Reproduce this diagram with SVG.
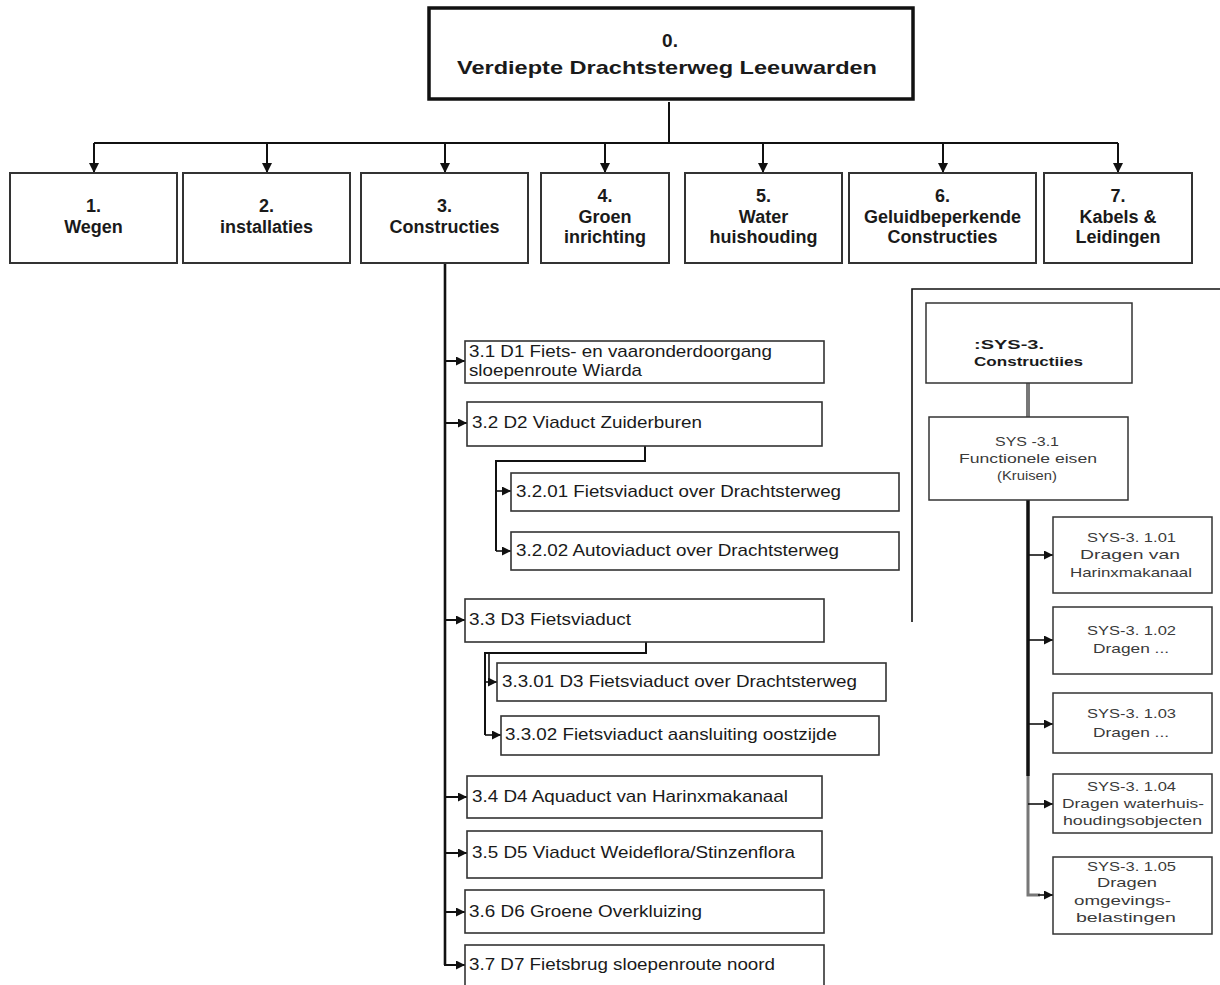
<svg xmlns="http://www.w3.org/2000/svg" width="1220" height="985" viewBox="0 0 1220 985">
  <defs>
    <marker id="arr" viewBox="0 0 10 10" refX="10" refY="5" markerWidth="10" markerHeight="10" orient="auto" markerUnits="userSpaceOnUse">
      <path d="M0,0 L10,5 L0,10 z" fill="#111"/>
    </marker>
    <marker id="arrS" viewBox="0 0 10 10" refX="10" refY="5" markerWidth="9" markerHeight="9" orient="auto" markerUnits="userSpaceOnUse">
      <path d="M0,0 L10,5 L0,10 z" fill="#111"/>
    </marker>
    <style>
      .top { fill: #fff; stroke: #111; stroke-width: 3.5; }
      .lvl1 { fill: #fff; stroke: #333; stroke-width: 2; }
      .sub { fill: #fff; stroke: #333; stroke-width: 1.6; }
      .sys { fill: #fff; stroke: #333; stroke-width: 1.5; }
      text { font-family: "Liberation Sans", Arial, sans-serif; fill: #1a1a1a; }
      .b18 { font-size: 18px; font-weight: bold; text-anchor: middle; }
      .b19 { font-size: 19px; font-weight: bold; text-anchor: middle; }
      .r17 { font-size: 17px; }
      .s13 { font-size: 13.5px; fill: #3a3a3a; }
      .s13b { font-size: 13.5px; font-weight: bold; }
      .ln { fill: none; stroke: #111; stroke-width: 2; }
      .lnT { fill: none; stroke: #111; stroke-width: 2.6; }
      .lnS { fill: none; stroke: #111; stroke-width: 1.6; }
      .gray { fill: none; stroke: #777; }
    </style>
  </defs>

  <!-- connectors -->
  <g id="connectors">
    <!-- root to level 1 -->
    <path class="ln" d="M669,102 V143 M94,143 H1118"/>
    <path class="ln" marker-end="url(#arr)" d="M94,143 V173"/>
    <path class="ln" marker-end="url(#arr)" d="M267,143 V173"/>
    <path class="ln" marker-end="url(#arr)" d="M445,143 V173"/>
    <path class="ln" marker-end="url(#arr)" d="M605,143 V173"/>
    <path class="ln" marker-end="url(#arr)" d="M763,143 V173"/>
    <path class="ln" marker-end="url(#arr)" d="M943,143 V173"/>
    <path class="ln" marker-end="url(#arr)" d="M1118,143 V173"/>

    <!-- 3. Constructies spine -->
    <path class="lnT" d="M445,263 V965"/>
    <path class="ln" marker-end="url(#arrS)" d="M445,361 H465"/>
    <path class="ln" marker-end="url(#arrS)" d="M445,423 H467"/>
    <path class="ln" marker-end="url(#arrS)" d="M445,620 H465"/>
    <path class="ln" marker-end="url(#arrS)" d="M445,797 H467"/>
    <path class="ln" marker-end="url(#arrS)" d="M445,853 H467"/>
    <path class="ln" marker-end="url(#arrS)" d="M445,912 H465"/>
    <path class="ln" marker-end="url(#arrS)" d="M444,965 H465"/>

    <!-- 3.2 children -->
    <path class="ln" d="M645,446 V461 H496 V551"/>
    <path class="lnS" marker-end="url(#arrS)" d="M496,491 H511"/>
    <path class="lnS" marker-end="url(#arrS)" d="M496,551 H511"/>

    <!-- 3.3 children -->
    <path class="ln" d="M646,642 V653 H485 V735"/>
    <path class="lnS" d="M489,653 V682"/>
    <path class="lnS" marker-end="url(#arrS)" d="M485,682 H497"/>
    <path class="lnS" marker-end="url(#arrS)" d="M485,735 H501"/>

    <!-- SYS panel frame -->
    <path class="lnS" d="M912,622 V289 H1220"/>

    <!-- SYS tree -->
    <path class="gray" stroke-width="4" d="M1028,383 V417"/>
    <path fill="none" stroke="#111" stroke-width="3.5" d="M1028,500 V776"/>
    <path class="gray" stroke-width="3" d="M1028,776 V895 H1040"/>
    <path class="lnS" marker-end="url(#arrS)" d="M1028,555 H1053"/>
    <path class="lnS" marker-end="url(#arrS)" d="M1028,640 H1053"/>
    <path class="lnS" marker-end="url(#arrS)" d="M1028,724 H1053"/>
    <path class="lnS" marker-end="url(#arrS)" d="M1028,804 H1053"/>
    <path class="lnS" marker-end="url(#arrS)" d="M1038,895 H1053"/>
  </g>

  <!-- root -->
  <g id="n0">
    <rect class="top" x="429" y="8" width="484" height="91"/>
    <text class="b19" x="670" y="47">0.</text>
    <text class="b19" x="667" y="74" textLength="420" lengthAdjust="spacingAndGlyphs">Verdiepte Drachtsterweg Leeuwarden</text>
  </g>

  <!-- level 1 -->
  <g id="n1">
    <rect class="lvl1" x="10" y="173" width="167" height="90"/>
    <text class="b18" x="93.5" y="212">1.</text>
    <text class="b18" x="93.5" y="233">Wegen</text>
  </g>
  <g id="n2">
    <rect class="lvl1" x="183" y="173" width="167" height="90"/>
    <text class="b18" x="266.5" y="212">2.</text>
    <text class="b18" x="266.5" y="233">installaties</text>
  </g>
  <g id="n3">
    <rect class="lvl1" x="361" y="173" width="167" height="90"/>
    <text class="b18" x="444.5" y="212">3.</text>
    <text class="b18" x="444.5" y="233">Constructies</text>
  </g>
  <g id="n4">
    <rect class="lvl1" x="541" y="173" width="128" height="90"/>
    <text class="b18" x="605" y="202">4.</text>
    <text class="b18" x="605" y="223">Groen</text>
    <text class="b18" x="605" y="243">inrichting</text>
  </g>
  <g id="n5">
    <rect class="lvl1" x="685" y="173" width="157" height="90"/>
    <text class="b18" x="763.5" y="202">5.</text>
    <text class="b18" x="763.5" y="223">Water</text>
    <text class="b18" x="763.5" y="243">huishouding</text>
  </g>
  <g id="n6">
    <rect class="lvl1" x="849" y="173" width="187" height="90"/>
    <text class="b18" x="942.5" y="202">6.</text>
    <text class="b18" x="942.5" y="223">Geluidbeperkende</text>
    <text class="b18" x="942.5" y="243">Constructies</text>
  </g>
  <g id="n7">
    <rect class="lvl1" x="1044" y="173" width="148" height="90"/>
    <text class="b18" x="1118" y="202">7.</text>
    <text class="b18" x="1118" y="223">Kabels &amp;</text>
    <text class="b18" x="1118" y="243">Leidingen</text>
  </g>

  <!-- 3.x items -->
  <g id="n3-1">
    <rect class="sub" x="465" y="341" width="359" height="42"/>
    <text class="r17" x="469" y="357" textLength="303" lengthAdjust="spacingAndGlyphs">3.1 D1 Fiets- en vaaronderdoorgang</text>
    <text class="r17" x="469" y="376" textLength="173" lengthAdjust="spacingAndGlyphs">sloepenroute Wiarda</text>
  </g>
  <g id="n3-2">
    <rect class="sub" x="467" y="402" width="355" height="44"/>
    <text class="r17" x="472" y="428" textLength="230" lengthAdjust="spacingAndGlyphs">3.2 D2 Viaduct Zuiderburen</text>
  </g>
  <g id="n3-2-01">
    <rect class="sub" x="511" y="473" width="388" height="38"/>
    <text class="r17" x="516" y="497" textLength="325" lengthAdjust="spacingAndGlyphs">3.2.01 Fietsviaduct over Drachtsterweg</text>
  </g>
  <g id="n3-2-02">
    <rect class="sub" x="511" y="532" width="388" height="38"/>
    <text class="r17" x="516" y="556" textLength="323" lengthAdjust="spacingAndGlyphs">3.2.02 Autoviaduct over Drachtsterweg</text>
  </g>
  <g id="n3-3">
    <rect class="sub" x="465" y="599" width="359" height="43"/>
    <text class="r17" x="469" y="625" textLength="162" lengthAdjust="spacingAndGlyphs">3.3 D3 Fietsviaduct</text>
  </g>
  <g id="n3-3-01">
    <rect class="sub" x="497" y="663" width="389" height="38"/>
    <text class="r17" x="502" y="687" textLength="355" lengthAdjust="spacingAndGlyphs">3.3.01 D3 Fietsviaduct over Drachtsterweg</text>
  </g>
  <g id="n3-3-02">
    <rect class="sub" x="501" y="716" width="378" height="39"/>
    <text class="r17" x="505" y="740" textLength="332" lengthAdjust="spacingAndGlyphs">3.3.02 Fietsviaduct aansluiting oostzijde</text>
  </g>
  <g id="n3-4">
    <rect class="sub" x="467" y="776" width="355" height="42"/>
    <text class="r17" x="472" y="802" textLength="316" lengthAdjust="spacingAndGlyphs">3.4 D4 Aquaduct van Harinxmakanaal</text>
  </g>
  <g id="n3-5">
    <rect class="sub" x="467" y="831" width="355" height="47"/>
    <text class="r17" x="472" y="858" textLength="323" lengthAdjust="spacingAndGlyphs">3.5 D5 Viaduct Weideflora/Stinzenflora</text>
  </g>
  <g id="n3-6">
    <rect class="sub" x="465" y="890" width="359" height="43"/>
    <text class="r17" x="469" y="917" textLength="233" lengthAdjust="spacingAndGlyphs">3.6 D6 Groene Overkluizing</text>
  </g>
  <g id="n3-7">
    <rect class="sub" x="465" y="945" width="359" height="50"/>
    <text class="r17" x="469" y="970" textLength="306" lengthAdjust="spacingAndGlyphs">3.7 D7 Fietsbrug sloepenroute noord</text>
  </g>

  <!-- SYS requirements tree -->
  <g id="sys3">
    <rect class="sys" x="926" y="303" width="206" height="80"/>
    <text class="s13b" x="974" y="349" textLength="70" lengthAdjust="spacingAndGlyphs">:SYS-3.</text>
    <text class="s13b" x="974" y="366" textLength="109" lengthAdjust="spacingAndGlyphs">Constructiies</text>
  </g>
  <g id="sys3-1">
    <rect class="sys" x="929" y="417" width="199" height="83"/>
    <text class="s13" x="995" y="446" textLength="64" lengthAdjust="spacingAndGlyphs">SYS -3.1</text>
    <text class="s13" x="959" y="463" textLength="138" lengthAdjust="spacingAndGlyphs">Functionele eisen</text>
    <text class="s13" x="997" y="480" textLength="60" lengthAdjust="spacingAndGlyphs">(Kruisen)</text>
  </g>
  <g id="sys3-1-01">
    <rect class="sys" x="1053" y="517" width="159" height="76"/>
    <text class="s13" x="1087" y="542" textLength="89" lengthAdjust="spacingAndGlyphs">SYS-3. 1.01</text>
    <text class="s13" x="1080" y="559" textLength="100" lengthAdjust="spacingAndGlyphs">Dragen van</text>
    <text class="s13" x="1070" y="577" textLength="122" lengthAdjust="spacingAndGlyphs">Harinxmakanaal</text>
  </g>
  <g id="sys3-1-02">
    <rect class="sys" x="1053" y="607" width="159" height="67"/>
    <text class="s13" x="1087" y="635" textLength="89" lengthAdjust="spacingAndGlyphs">SYS-3. 1.02</text>
    <text class="s13" x="1093" y="653" textLength="76" lengthAdjust="spacingAndGlyphs">Dragen ...</text>
  </g>
  <g id="sys3-1-03">
    <rect class="sys" x="1053" y="693" width="159" height="60"/>
    <text class="s13" x="1087" y="718" textLength="89" lengthAdjust="spacingAndGlyphs">SYS-3. 1.03</text>
    <text class="s13" x="1093" y="737" textLength="76" lengthAdjust="spacingAndGlyphs">Dragen ...</text>
  </g>
  <g id="sys3-1-04">
    <rect class="sys" x="1053" y="774" width="159" height="59"/>
    <text class="s13" x="1087" y="791" textLength="89" lengthAdjust="spacingAndGlyphs">SYS-3. 1.04</text>
    <text class="s13" x="1062" y="808" textLength="142" lengthAdjust="spacingAndGlyphs">Dragen waterhuis-</text>
    <text class="s13" x="1063" y="825" textLength="139" lengthAdjust="spacingAndGlyphs">houdingsobjecten</text>
  </g>
  <g id="sys3-1-05">
    <rect class="sys" x="1053" y="857" width="159" height="77"/>
    <text class="s13" x="1087" y="871" textLength="89" lengthAdjust="spacingAndGlyphs">SYS-3. 1.05</text>
    <text class="s13" x="1097" y="887" textLength="60" lengthAdjust="spacingAndGlyphs">Dragen</text>
    <text class="s13" x="1074" y="905" textLength="97" lengthAdjust="spacingAndGlyphs">omgevings-</text>
    <text class="s13" x="1076" y="922" textLength="100" lengthAdjust="spacingAndGlyphs">belastingen</text>
  </g>
</svg>
